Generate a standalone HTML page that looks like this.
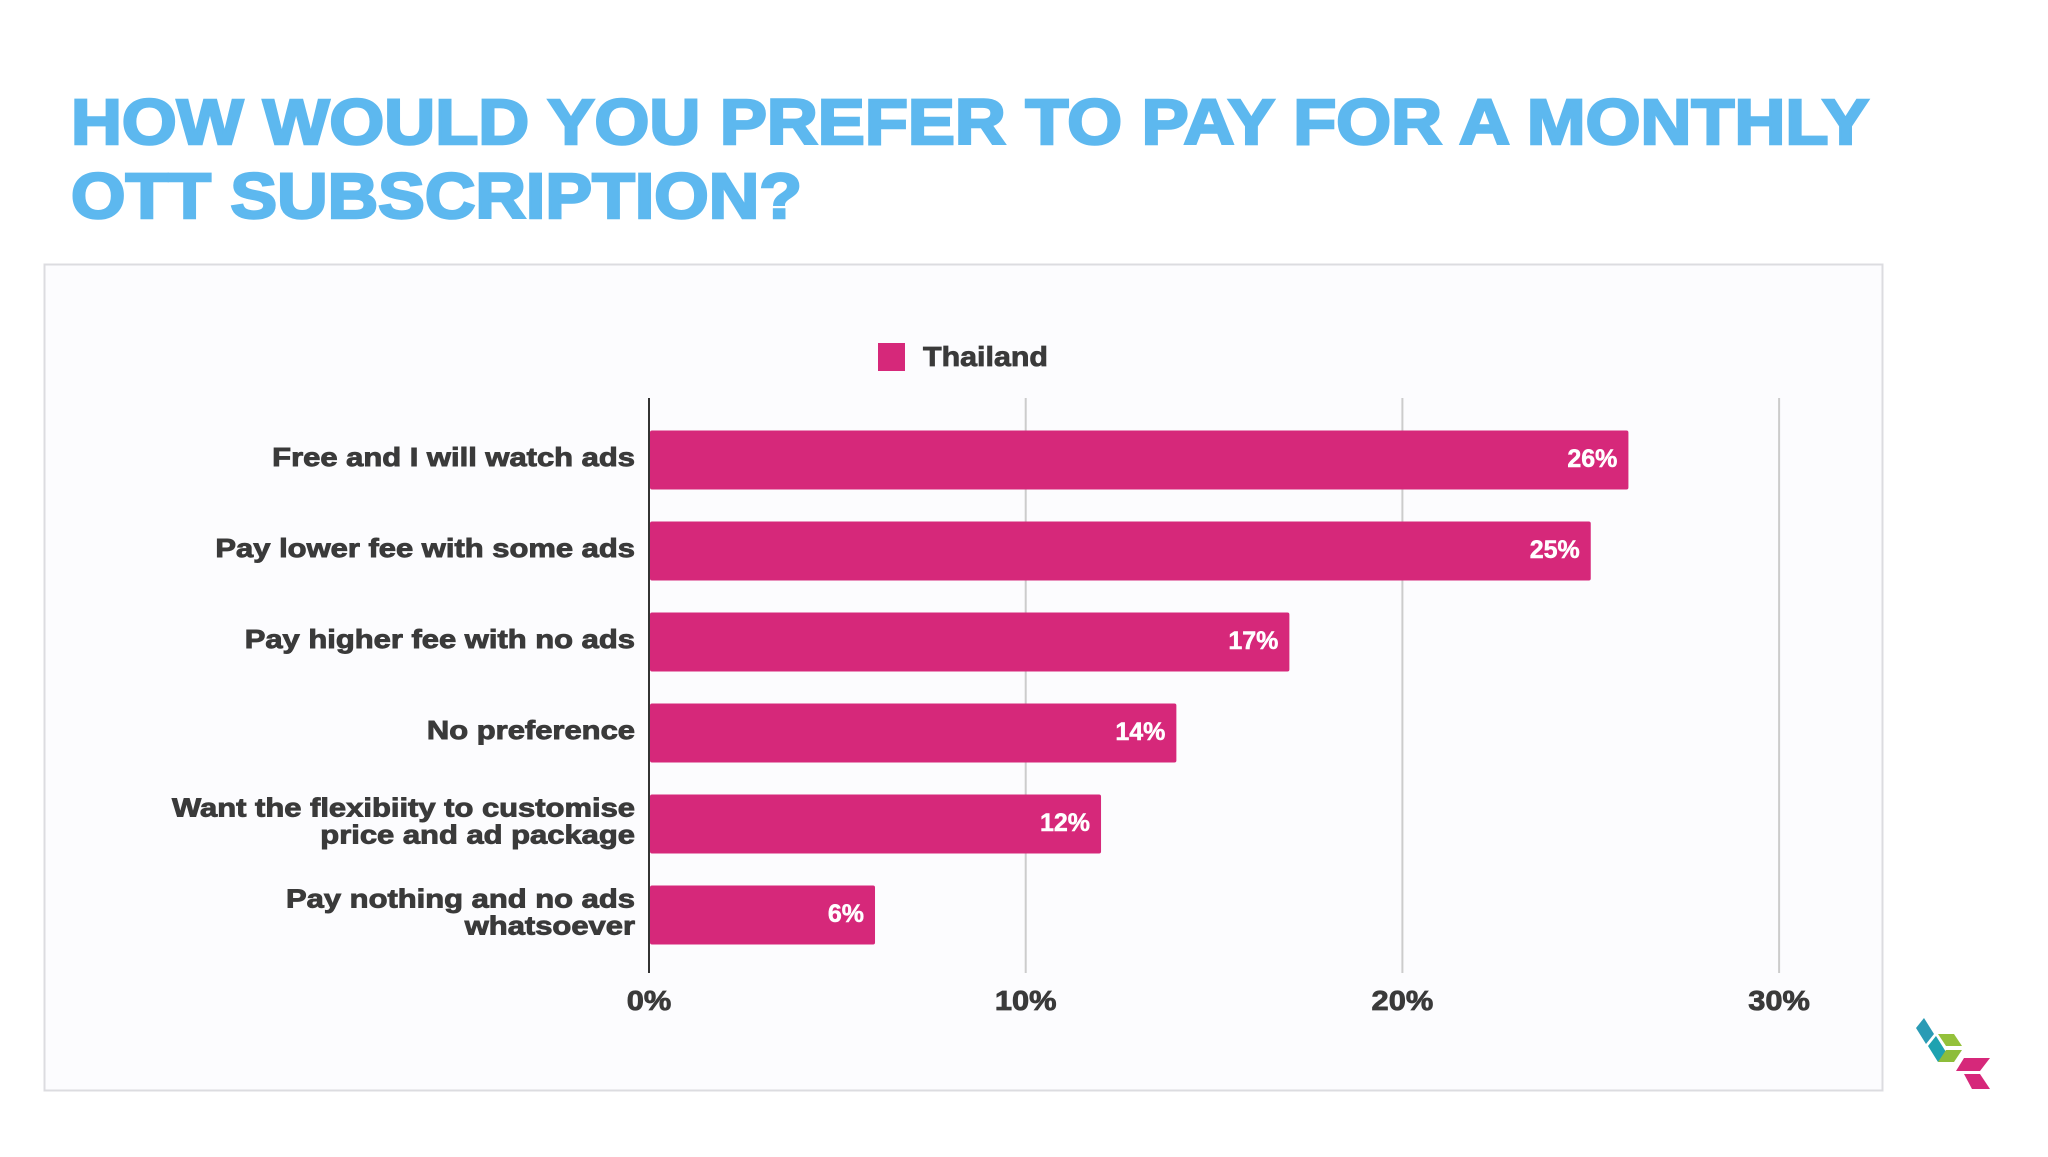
<!DOCTYPE html>
<html><head><meta charset="utf-8"><style>
body{margin:0;background:#fff;width:2048px;height:1152px;overflow:hidden;font-family:"Liberation Sans",sans-serif}
</style></head><body>
<svg width="2048" height="1152" xmlns="http://www.w3.org/2000/svg">
<text x="71" y="144" font-size="64" font-weight="bold" fill="#5db8ef" stroke="#5db8ef" stroke-width="2.5" textLength="1798" lengthAdjust="spacingAndGlyphs">HOW WOULD YOU PREFER TO PAY FOR A MONTHLY</text>
<text x="71" y="218" font-size="64" font-weight="bold" fill="#5db8ef" stroke="#5db8ef" stroke-width="2.5" textLength="731" lengthAdjust="spacingAndGlyphs">OTT SUBSCRIPTION?</text>
<rect x="44.5" y="264.5" width="1838" height="826" fill="#fcfcfe" stroke="#dcdce0" stroke-width="2"/>
<rect x="878" y="343" width="27" height="28" fill="#d6287a"/>
<text x="923" y="366" font-size="28" font-weight="bold" fill="#3a3a3a" stroke="#3a3a3a" stroke-width="0.8" textLength="125" lengthAdjust="spacingAndGlyphs">Thailand</text>
<g id="grid"></g><g id="bars"></g>
<g>
<path d="M1916 1028 l8 -10 l10 16 l-8 10z" fill="#2a9bb5"/>
<path d="M1928 1046 l8 -10 l10 16 l-8 10z" fill="#1ea2b0"/>
<path d="M1938 1034 l16 0 l8 12 l-16 0z" fill="#94c13b"/>
<path d="M1946 1050 l16 0 l-8 12 l-16 0z" fill="#8dbd3a"/>
<path d="M1964 1058 l26 0 l-10 13 l-24 0z" fill="#d6287a"/>
<path d="M1964 1074 l16 0 l10 15 l-18 0z" fill="#d6287a"/>
</g>
</svg>
<script>
const categories=[["Free and I will watch ads"],["Pay lower fee with some ads"],["Pay higher fee with no ads"],["No preference"],["Want the flexibiity to customise","price and ad package"],["Pay nothing and no ads","whatsoever"]];
const values=[26,25,17,14,12,6];
const valueLabels=["26%","25%","17%","14%","12%","6%"];
const ticks=[0,10,20,30];
const tickLabels=["0%","10%","20%","30%"];
const NS="http://www.w3.org/2000/svg";
const x=v=>649+v*37.67;
const yc=i=>460+i*91;
function mk(t,a,p,txt){const e=document.createElementNS(NS,t);for(const k in a)e.setAttribute(k,a[k]);if(txt!==undefined)e.textContent=txt;p.appendChild(e);return e;}
function widen(e,f){const w=e.getComputedTextLength();e.setAttribute('textLength',w*f);e.setAttribute('lengthAdjust','spacingAndGlyphs');}
const g=document.getElementById('grid'),b=document.getElementById('bars');
ticks.forEach((t,i)=>{
 const l=mk('line',{x1:x(t),x2:x(t),y1:398,y2:973,stroke:t===0?'#333':'#ccc','stroke-width':2},g);
 
 
 const tx=mk('text',{x:x(t),y:1010,'text-anchor':'middle','font-size':28,'font-weight':'bold',fill:'#3a3a3a',stroke:'#3a3a3a','stroke-width':0.8},g,tickLabels[i]);
 
 
 widen(tx,1.1);
});
values.forEach((v,i)=>{
 const r=mk('rect',{x:x(0)+1,y:yc(i)-29.5,width:x(v)-x(0)-1,height:59,rx:2,fill:'#d6287a'},b);
 
 
 const vl=mk('text',{x:x(v)-11,y:yc(i)+7,'text-anchor':'end','font-size':25,'font-weight':'bold',fill:'#fff',stroke:'#fff','stroke-width':0.5},b,valueLabels[i]);
 
 
 const lines=categories[i];
 lines.forEach((s,j)=>{
  const yy=yc(i)+6+(j-(lines.length-1)/2)*27;
  const c=mk('text',{x:635,y:yy,'text-anchor':'end','font-size':26,'font-weight':'bold',fill:'#3a3a3a',stroke:'#3a3a3a','stroke-width':0.9},b,s);
  
  
  widen(c,1.19);
 });
});
</script>
</body></html>
